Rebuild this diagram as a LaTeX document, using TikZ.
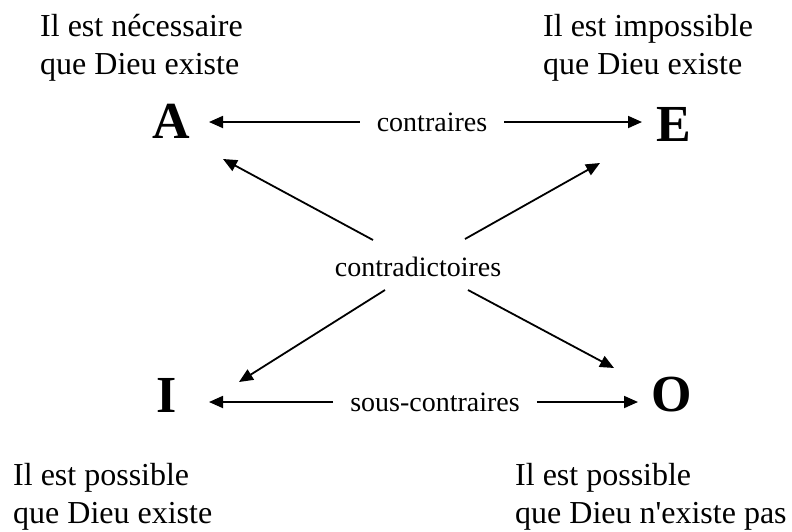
\documentclass[tikz,border=0pt]{standalone}
\usepackage{fontspec}
\setmainfont{Liberation Serif}
\usetikzlibrary{arrows.meta,calc}

\tikzset{
  phrase/.style={anchor=base west,inner sep=0pt,align=left,
    font=\fontsize{32}{38}\selectfont},
  corner/.style={inner sep=0pt,font=\fontsize{52}{56}\selectfont\bfseries},
  relname/.style={inner xsep=17pt,inner ysep=0pt,font=\fontsize{28}{32}\selectfont},
  contra/.style={-{Triangle[length=14pt,width=12pt]},line width=1.8pt},
}

\begin{document}
\begin{tikzpicture}[x=1pt,y=-1pt]
  \useasboundingbox (0,0) rectangle (792,531);
  % the four corners of the square
  \node[corner] (A) at (171,121) {A};
  \node[corner] (E) at (674,124) {E};
  \node[corner] (I) at (167,395) {I};
  \node[corner] (O) at (672,395) {O};
  % what each corner says (base = last line)
  \node[phrase] (nec) at (40,74) {Il est nécessaire\\que Dieu existe};
  \node[phrase] (imp) at (543,74) {Il est impossible\\que Dieu existe};
  \node[phrase] (posI) at (13,523) {Il est possible\\que Dieu existe};
  \node[phrase] (posO) at (515,523) {Il est possible\\que Dieu n\textquotesingle existe pas};
  % relations
  \node[relname] (ctr) at (432,122) {contraires};
  \node[relname] (sctr) at (435,402) {sous-contraires};
  \node[relname,inner sep=0pt] (cdict) at (418,267) {contradictoires};
  \draw[contra] (ctr.west) -- ($(ctr.west -| A)+(38,0)$);
  \draw[contra] (ctr.east) -- ($(ctr.east -| E)+(-32,0)$);
  \draw[contra] (sctr.west) -- ($(sctr.west -| I)+(42,0)$);
  \draw[contra] (sctr.east) -- ($(sctr.east -| O)+(-34,0)$);
  \draw[contra] ($(cdict)+(-45,-27)$) -- ($(A)+(52,38)$);
  \draw[contra] ($(cdict)+(47,-28)$) -- ($(E)+(-74,39)$);
  \draw[contra] ($(cdict)+(-33,23)$) -- ($(I)+(72,-13)$);
  \draw[contra] ($(cdict)+(50,23)$) -- ($(O)+(-58,-27)$);
\end{tikzpicture}
\end{document}
